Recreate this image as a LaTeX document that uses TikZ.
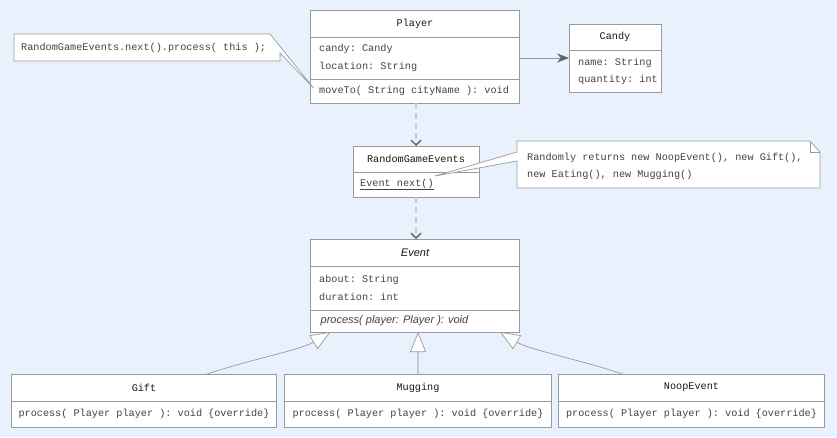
\documentclass[tikz,border=0pt]{standalone}
\usepackage{fontspec}
\setmonofont{Liberation Mono}
\newfontfamily\classsans{Liberation Sans}
\usepackage{tikz}
\usetikzlibrary{arrows.meta,calc}
\definecolor{bgblue}{RGB}{233,242,252}
\definecolor{linegray}{RGB}{150,155,160}
\definecolor{dashgray}{RGB}{196,202,208}
\definecolor{tipgray}{RGB}{95,98,102}
\definecolor{txtgray}{RGB}{68,68,68}
\newcommand\monofont{\fontsize{10.2}{18}\selectfont\ttfamily}
\newcommand\italfont{\fontsize{11}{13}\selectfont\classsans\itshape}

\begin{document}
\begin{tikzpicture}[x=1pt,y=-1pt,
  part/.style={draw=linegray,fill=white,anchor=north west,inner sep=0pt,outer sep=0pt,font=\monofont,text=txtgray},
  head/.style={part,text=black!90},
  txt/.style={anchor=west,inner sep=0pt,align=left,font=\monofont,text=txtgray},
  note/.style={draw=linegray,fill=white,line width=0.7pt},
  assoc/.style={draw=linegray,line width=0.8pt,-{Stealth[length=12pt,width=9pt,color=tipgray]}},
  dep/.style={draw=dashgray,line width=1.6pt,dash pattern=on 6pt off 4pt,-{Straight Barb[length=5pt,width=10pt,line width=1.4pt,color=tipgray]}},
  gen/.style={draw=linegray,line width=0.7pt,-{Triangle[length=20pt,width=16pt,fill=white]}},
  genv/.style={draw=dashgray,line width=1.6pt,-{Triangle[length=20pt,width=16pt,fill=white,color=linegray,line width=0.7pt]}}]
\fill[bgblue] (0,0) rectangle (837,437);
\useasboundingbox (0,0) rectangle (837,437);

\node[head,minimum width=209pt,minimum height=26.5pt] (player) at (310.5,10.5) {Player};
\node[part,minimum width=209pt,minimum height=42pt] (playerattr) at (player.south west) {};
\node[part,minimum width=209pt,minimum height=24pt] (playerops) at (playerattr.south west) {};
\node[txt] (playerattrtxt) at ([xshift=8.5pt]playerattr.west) {candy: Candy\\location: String};
\node[txt] (playeropstxt) at ([xshift=8.5pt]playerops.west) {moveTo( String cityName ): void};

\node[head,minimum width=92pt,minimum height=26.5pt] (candy) at (569,24) {Candy};
\node[part,minimum width=92pt,minimum height=41.5pt] (candyattr) at (candy.south west) {};
\node[txt,font=\fontsize{10.2}{17}\selectfont\ttfamily] (candyattrtxt) at ([xshift=9pt]candyattr.west) {name: String\\quantity: int};

\node[head,minimum width=126pt,minimum height=26pt] (rge) at (353,146) {RandomGameEvents};
\node[part,minimum width=126pt,minimum height=25pt] (rgeops) at (rge.south west) {};
\node[txt] (rgeopstxt) at ([xshift=7pt]rgeops.west) {\underline{Event next()}};

\node[head,minimum width=209pt,minimum height=27pt,font=\italfont] (event) at (310.5,239) {Event};
\node[part,minimum width=209pt,minimum height=44pt] (eventattr) at (event.south west) {};
\node[part,minimum width=209pt,minimum height=22pt] (eventops) at (eventattr.south west) {};
\node[txt] (eventattrtxt) at ([xshift=8.5pt]eventattr.west) {about: String\\duration: int};
\node[txt,font=\italfont] (eventopstxt) at ([xshift=10pt]eventops.west) {process( player: Player ): void};

\node[head,minimum width=265pt,minimum height=27pt] (gift) at (11.5,374) {Gift};
\node[part,minimum width=265pt,minimum height=26pt] (giftops) at (gift.south west) {process( Player player ): void \{override\}};
\node[head,minimum width=267pt,minimum height=27pt] (mugging) at (284.5,374) {Mugging};
\node[part,minimum width=267pt,minimum height=26pt] (muggingops) at (mugging.south west) {process( Player player ): void \{override\}};
\node[head,minimum width=266pt,minimum height=27pt] (noop) at (558.5,374) {NoopEvent};
\node[part,minimum width=266pt,minimum height=26pt] (noopops) at (noop.south west) {process( Player player ): void \{override\}};

\filldraw[note] (14,34) -- (270,34) -- ([shift={(3,-3)}]playerops.west) -- (280,53) -- (280,61) -- (14,61) -- cycle;
\node[txt] (note1) at (21,47.5) {RandomGameEvents.next().process( this );};

\coordinate (tip2) at ([shift={(82,-8.5)}]rgeops.west);
\filldraw[note] (517,141) -- (810,141) -- (820,152) -- (820,188) -- (517,188) -- (517,161) -- (tip2) -- (517,152) -- cycle;
\draw[note,fill=none] (810,141) -- (810,152) -- (820,152);
\node[txt,font=\fontsize{10.2}{17}\selectfont\ttfamily] (note2) at (527,166.5) {Randomly returns new NoopEvent(), new Gift(),\\new Eating(), new Mugging()};

\draw[assoc] (playerattr.east) -- (playerattr.east -| candyattr.west);
\draw[dep] (rge.north |- playerops.south) -- (rge.north);
\draw[dep] (rgeops.south) -- (rgeops.south |- event.north);
\draw[gen] ([xshift=63pt]gift.north) .. controls +(45,-15) and +(-30,18) .. ([xshift=20pt]eventops.south west);
\draw[genv] (mugging.north) -- (mugging.north |- eventops.south);
\draw[gen] ([xshift=-69pt]noop.north) .. controls +(-45,-15) and +(30,18) .. ([xshift=-19.5pt]eventops.south east);
\end{tikzpicture}
\end{document}
